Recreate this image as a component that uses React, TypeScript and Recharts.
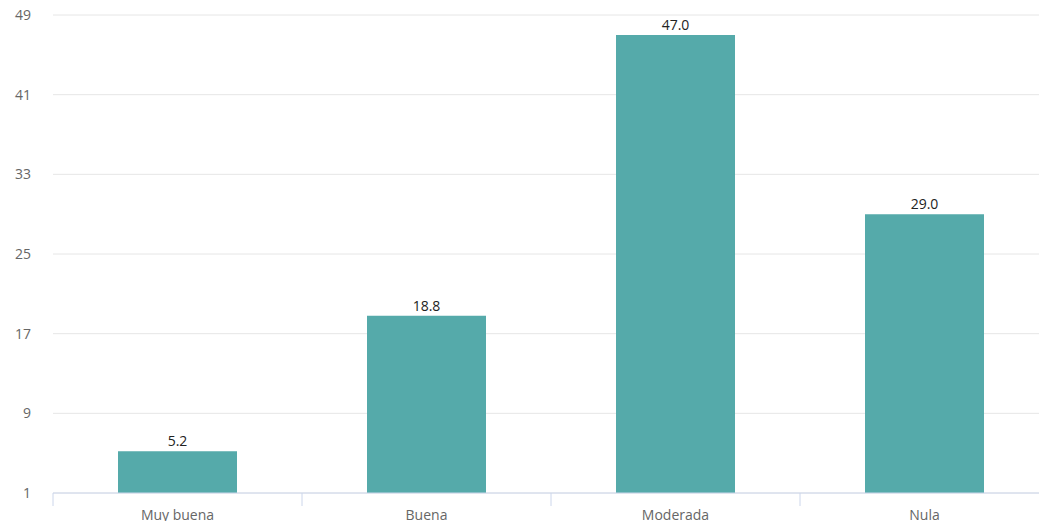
import React from "react";
import { BarChart, Bar, XAxis, YAxis, CartesianGrid, LabelList } from "recharts";

const categories = ["Muy buena", "Buena", "Moderada", "Nula"];
const values = [5.2, 18.8, 47.0, 29.0];
const yTicks = [1, 9, 17, 25, 33, 41, 49];

const data = categories.map((c, i) => ({ name: c, value: values[i] }));

const CHART_W = 1049;
const CHART_H = 521;
const MARGIN = { top: 15, right: 0, bottom: 0, left: 0 };
const Y_W = 53;
const X_H = 28;
const BAND = (CHART_W - Y_W - MARGIN.left - MARGIN.right) / categories.length;

const XTick = (props: any) => {
  const { x, y, payload } = props;
  const lx = x - BAND / 2;
  const base = y - 8;
  return (
    <g>
      <line x1={lx} y1={base} x2={lx} y2={base + 13} stroke="#ccd6eb" strokeWidth={1} />
      <text
        x={x}
        y={base + 21}
        textAnchor="middle"
        dominantBaseline="central"
        fill="#666666"
        fontSize={14}
        fontFamily="'Open Sans', sans-serif"
      >
        {payload.value}
      </text>
    </g>
  );
};

export default function App() {
  return (
    <div style={{ position: "absolute", left: 0, top: 0, width: 1039, height: 521, overflow: "hidden", background: "#fff" }}>
      <BarChart width={CHART_W} height={CHART_H} data={data} margin={MARGIN}>
        <CartesianGrid vertical={false} stroke="#e6e6e6" />
        <XAxis
          dataKey="name"
          height={X_H}
          axisLine={{ stroke: "#ccd6eb" }}
          tickLine={false}
          tick={<XTick />}
          interval={0}
        />
        <YAxis
          width={Y_W}
          domain={[1, 49]}
          ticks={yTicks}
          axisLine={false}
          tickLine={false}
          tickSize={0}
          tickMargin={22}
          tick={{ fill: "#666666", fontSize: 14, fontFamily: "'Open Sans', sans-serif" }}
        />
        <Bar dataKey="value" fill="#55aaaa" barSize={119} isAnimationActive={false}>
          <LabelList
            dataKey="value"
            position="top"
            offset={5}
            formatter={(v: any) => Number(v).toFixed(1)}
            style={{ fill: "#222222", fontSize: 14, fontFamily: "'Open Sans', sans-serif" }}
          />
        </Bar>
      </BarChart>
    </div>
  );
}
